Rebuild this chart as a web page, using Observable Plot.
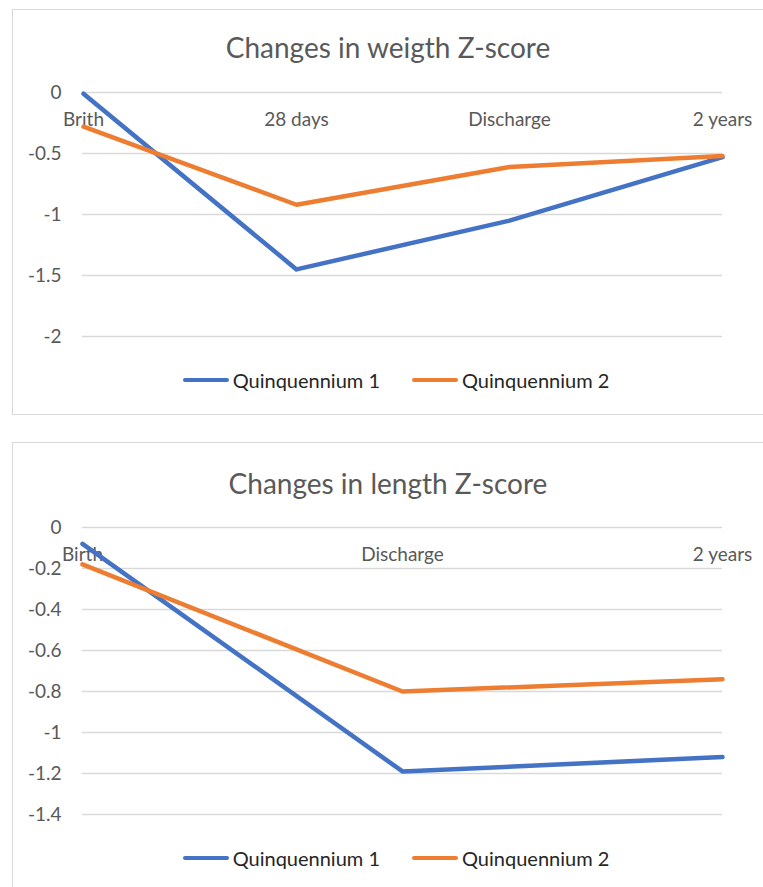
<!DOCTYPE html>
<html>
<head>
<meta charset="utf-8">
<script src="https://cdn.jsdelivr.net/npm/d3@7"></script>
<script src="https://cdn.jsdelivr.net/npm/@observablehq/plot@0.6"></script>
<style>
  html, body { margin: 0; padding: 0; background: #fff; width: 763px; height: 887px; overflow: hidden; font-family: Lato, "Open Sans", sans-serif; }
  .panel { position: absolute; left: 12px; width: 800px; border: 1.5px solid #d9d9d9; box-sizing: border-box; }
  .title { position: absolute; left: 0; width: 776px; text-align: center; color: #595959; font-size: 28px; line-height: 1; white-space: nowrap; }
  .chart { position: absolute; left: 0; }
  .legend { position: absolute; left: 0; width: 792px; display: flex; justify-content: center; align-items: center; color: #262626; font-size: 20px; line-height: 1; white-space: nowrap; }
  .legend .item { display: flex; align-items: center; margin: 0 16px; }
  .legend .sw { width: 46px; height: 4.5px; border-radius: 2px; margin-right: 4px; }
</style>
</head>
<body>
<div class="panel" style="top:9px; height:406px;"></div>
<div class="panel" style="top:442px; height:460px;"></div>
<div class="title" style="top:33px;">Changes in weigth Z-score</div>
<div class="title" style="top:469px;">Changes in length Z-score</div>
<div id="c1" class="chart" style="top:70px;"></div>
<div id="c2" class="chart" style="top:505px;"></div>
<div id="l1" class="legend" style="top:370px;"></div>
<div id="l2" class="legend" style="top:848px;"></div>
<script>
// ---- data ----
const seriesNames = ["Quinquennium 1", "Quinquennium 2"];
const seriesColors = ["#4472C4", "#ED7D31"];

const weightCats = ["Brith", "28 days", "Discharge", "2 years"];
const weightQ1 = [-0.01, -1.45, -1.05, -0.53];
const weightQ2 = [-0.28, -0.92, -0.61, -0.52];
const weightTicks = [0, -0.5, -1, -1.5, -2];

const lengthCats = ["Birth", "Discharge", "2 years"];
const lengthQ1 = [-0.08, -1.19, -1.12];
const lengthQ2 = [-0.18, -0.80, -0.74];
const lengthTicks = [0, -0.2, -0.4, -0.6, -0.8, -1, -1.2, -1.4];

function rows(cats, q1, q2) {
  const out = [];
  cats.forEach((c, i) => out.push({cat: c, value: q1[i], series: seriesNames[0]}));
  cats.forEach((c, i) => out.push({cat: c, value: q2[i], series: seriesNames[1]}));
  return out;
}

function makeChart(cats, q1, q2, ticks, plotHeight) {
  const marginTop = 22, marginBottom = 10;
  return Plot.plot({
    width: 763,
    height: marginTop + plotHeight + marginBottom,
    marginLeft: 82,
    marginRight: 41,
    marginTop,
    marginBottom,
    style: {fontFamily: "Lato, 'Open Sans', sans-serif", fontSize: "19px", color: "#595959", background: "transparent", overflow: "visible"},
    x: {type: "point", domain: cats, padding: 0, axis: null},
    y: {domain: [d3.min(ticks), 0], axis: null},
    color: {domain: seriesNames, range: seriesColors},
    marks: [
      Plot.ruleY(ticks, {stroke: "#d9d9d9", strokeWidth: 1.5}),
      Plot.axisY(ticks, {tickSize: 0, tickPadding: 21, tickFormat: d => String(d), fontSize: 19, label: null}),
      Plot.text(cats, {x: d => d, y: () => 0, dy: 27, text: d => d, fill: "#595959", fontSize: 19}),
      Plot.line(rows(cats, q1, q2), {x: "cat", y: "value", z: "series", stroke: "series", strokeWidth: 4.5, strokeLinejoin: "round", strokeLinecap: "round"})
    ]
  });
}

function legend(el) {
  seriesNames.forEach((n, i) => {
    const it = document.createElement("div");
    it.className = "item";
    const sw = document.createElement("div");
    sw.className = "sw";
    sw.style.background = seriesColors[i];
    const tx = document.createElement("span");
    tx.textContent = n;
    it.appendChild(sw); it.appendChild(tx);
    el.appendChild(it);
  });
}

document.getElementById("c1").appendChild(makeChart(weightCats, weightQ1, weightQ2, weightTicks, 244));
document.getElementById("c2").appendChild(makeChart(lengthCats, lengthQ1, lengthQ2, lengthTicks, 287));
legend(document.getElementById("l1"));
legend(document.getElementById("l2"));
</script>
</body>
</html>
